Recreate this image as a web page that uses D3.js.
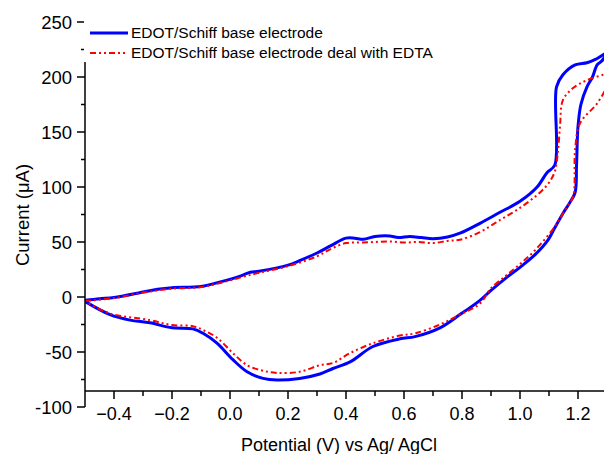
<!DOCTYPE html>
<html>
<head>
<meta charset="utf-8">
<script src="https://cdn.jsdelivr.net/npm/d3@7"></script>
<style>
  html, body { margin: 0; padding: 0; background: #fff; }
  svg { display: block; }
  svg text { font-family: "Liberation Sans", Arial, sans-serif; }
</style>
</head>
<body>
<div id="chart"></div>
<script>
(function() {
  // potential (V) and current (uA), forward sweep then return sweep
  var bluePotential = [-0.5, -0.45, -0.4, -0.3, -0.25, -0.2, -0.1, -0.03, 0.04, 0.07, 0.1, 0.2, 0.24, 0.3, 0.35, 0.4, 0.43, 0.46, 0.5, 0.55, 0.58, 0.62, 0.66, 0.7, 0.75, 0.793, 0.862, 0.931, 1.0, 1.059, 1.093, 1.12, 1.126, 1.148, 1.19, 1.231, 1.26, 1.3,
    1.28, 1.266, 1.25, 1.231, 1.21, 1.2, 1.195, 1.19, 1.172, 1.148, 1.12, 1.097, 1.05, 1.0, 0.95, 0.9, 0.862, 0.793, 0.724, 0.638, 0.586, 0.493, 0.414, 0.355, 0.31, 0.24, 0.162, 0.114, 0.059, 0.01, -0.045, -0.093, -0.128, -0.2, -0.276, -0.345, -0.414, -0.5];
  var blueCurrent = [-3, -1.5, -0.5, 4.5, 7, 8.5, 9.5, 14, 19.5, 22.5, 23.5, 29, 33, 40, 47, 53.5, 53.5, 52.5, 55, 55.5, 54, 55, 54, 53, 54.5, 58, 67, 77, 87, 100, 113, 120, 191, 202, 211, 213, 216, 222,
    214, 211, 200, 191, 175, 155, 120, 95, 86, 76, 63, 52, 38, 27, 17, 6, -3, -16, -28, -36, -38, -45, -59, -65, -70, -74, -75.5, -74, -68, -57, -42, -33, -29, -28, -23.5, -21, -16, -4];

  var redPotential = [-0.5, -0.4, -0.3, -0.2, -0.1, -0.03, 0.04, 0.1, 0.2, 0.3, 0.35, 0.4, 0.45, 0.5, 0.55, 0.6, 0.65, 0.7, 0.75, 0.793, 0.862, 0.931, 1.0, 1.069, 1.1, 1.12, 1.13, 1.138, 1.148, 1.183, 1.23, 1.286, 1.3,
    1.297, 1.266, 1.207, 1.19, 1.183, 1.162, 1.12, 1.05, 1.0, 0.95, 0.9, 0.862, 0.793, 0.724, 0.638, 0.586, 0.493, 0.414, 0.355, 0.31, 0.24, 0.162, 0.114, 0.059, 0.01, -0.045, -0.093, -0.128, -0.2, -0.276, -0.414, -0.5];
  var redCurrent = [-3.5, -1, 4, 7.5, 9, 13, 18, 22, 28, 37, 44, 49, 49.5, 50, 50.5, 49.5, 50, 49, 51, 52, 59, 70, 81, 95, 104, 114, 130, 155, 179, 190, 197, 202, 203,
    191, 176, 158, 134, 91, 82, 64, 42, 30, 19, 8, -6, -16, -25, -33, -35, -42, -51, -60, -62, -68, -69, -67, -62, -51, -37, -30, -26.5, -25.5, -21, -15, -4];

  var legendLabels = ['EDOT/Schiff base electrode', 'EDOT/Schiff base electrode deal with EDTA'];
  var xTicks = [-0.4, -0.2, 0.0, 0.2, 0.4, 0.6, 0.8, 1.0, 1.2];
  var xMinorTicks = [-0.3, -0.1, 0.1, 0.3, 0.5, 0.7, 0.9, 1.1];
  var yTicks = [-100, -50, 0, 50, 100, 150, 200, 250];
  var yMinorTicks = [-75, -25, 25, 75, 125, 175, 225];

  var width = 604, height = 454;
  var x = d3.scaleLinear().domain([-0.5, 1.3]).range([85, 607]);
  var y = d3.scaleLinear().domain([-100, 250]).range([407, 22]);
  var xAxisY = 391;

  var svg = d3.select('#chart').append('svg').attr('width', width).attr('height', height);

  svg.append('defs').append('clipPath').attr('id', 'plot-clip')
    .append('rect').attr('x', 85).attr('y', 0).attr('width', width - 85).attr('height', xAxisY);

  var toPoints = function(es, is) {
    return es.map(function(e, i) { return [e, is[i]]; });
  };
  var line = d3.line()
    .x(function(d) { return x(d[0]); })
    .y(function(d) { return y(d[1]); })
    .curve(d3.curveCatmullRom.alpha(0.5));

  var plot = svg.append('g').attr('clip-path', 'url(#plot-clip)');
  plot.append('path').datum(toPoints(bluePotential, blueCurrent))
    .attr('d', line).attr('fill', 'none').attr('stroke', '#0000ff')
    .attr('stroke-width', 3).attr('stroke-linejoin', 'round');
  plot.append('path').datum(toPoints(redPotential, redCurrent))
    .attr('d', line).attr('fill', 'none').attr('stroke', '#ff0000')
    .attr('stroke-width', 2).attr('stroke-dasharray', '6,3,2,3,2,3');

  // y axis
  var yAxis = svg.append('g').attr('transform', 'translate(85,0)');
  yAxis.append('line').attr('x1', 0).attr('x2', 0).attr('y1', y(250)).attr('y2', y(-100))
    .attr('stroke', '#000').attr('stroke-width', 1.5);
  yAxis.selectAll('.ymaj').data(yTicks).enter().append('line')
    .attr('x1', -8).attr('x2', 0).attr('y1', function(d) { return y(d); }).attr('y2', function(d) { return y(d); })
    .attr('stroke', '#000').attr('stroke-width', 1.5);
  yAxis.selectAll('.ymin').data(yMinorTicks).enter().append('line')
    .attr('x1', -4).attr('x2', 0).attr('y1', function(d) { return y(d); }).attr('y2', function(d) { return y(d); })
    .attr('stroke', '#000').attr('stroke-width', 1.5);
  yAxis.selectAll('.ylab').data(yTicks).enter().append('text')
    .attr('x', -13).attr('y', function(d) { return y(d); }).attr('dy', '0.36em')
    .attr('text-anchor', 'end').attr('font-size', '18.5px').attr('fill', '#000')
    .text(function(d) { return d; });

  // x axis
  var xAxis = svg.append('g').attr('transform', 'translate(0,' + xAxisY + ')');
  xAxis.append('line').attr('x1', 85).attr('x2', width).attr('y1', 0).attr('y2', 0)
    .attr('stroke', '#000').attr('stroke-width', 1.5);
  xAxis.selectAll('.xmaj').data(xTicks).enter().append('line')
    .attr('x1', function(d) { return x(d); }).attr('x2', function(d) { return x(d); })
    .attr('y1', 0).attr('y2', 8).attr('stroke', '#000').attr('stroke-width', 1.5);
  xAxis.selectAll('.xmin').data(xMinorTicks).enter().append('line')
    .attr('x1', function(d) { return x(d); }).attr('x2', function(d) { return x(d); })
    .attr('y1', 0).attr('y2', 5).attr('stroke', '#000').attr('stroke-width', 1.5);
  xAxis.selectAll('.xlab').data(xTicks).enter().append('text')
    .attr('x', function(d) { return x(d); }).attr('y', 29)
    .attr('text-anchor', 'middle').attr('font-size', '18px').attr('fill', '#000')
    .text(function(d) { return d3.format('.1f')(d); });

  // axis titles
  svg.append('text').attr('transform', 'translate(29,215) rotate(-90)')
    .attr('text-anchor', 'middle').attr('font-size', '18.5px').attr('fill', '#000')
    .text('Current (\u03bcA)');
  svg.append('text').attr('x', 339).attr('y', 451)
    .attr('text-anchor', 'middle').attr('font-size', '18px').attr('fill', '#000')
    .text('Potential (V) vs Ag/ AgCl');

  // legend, white box hides the top of the y spine
  var legend = svg.append('g');
  legend.append('rect').attr('x', 84).attr('y', 14).attr('width', 356).attr('height', 48).attr('fill', '#fff');
  var styles = [
    { stroke: '#0000ff', width: 3, dash: null },
    { stroke: '#ff0000', width: 2, dash: '6,3,2,3,2,3' }
  ];
  legendLabels.forEach(function(label, i) {
    var ly = 33 + i * 20;
    legend.append('line').attr('x1', 90).attr('x2', 128).attr('y1', ly).attr('y2', ly)
      .attr('stroke', styles[i].stroke).attr('stroke-width', styles[i].width)
      .attr('stroke-dasharray', styles[i].dash);
    legend.append('text').attr('x', 131).attr('y', ly).attr('dy', '0.35em')
      .attr('font-size', '15.5px').attr('fill', '#000').text(label);
  });
})();
</script>
</body>
</html>
